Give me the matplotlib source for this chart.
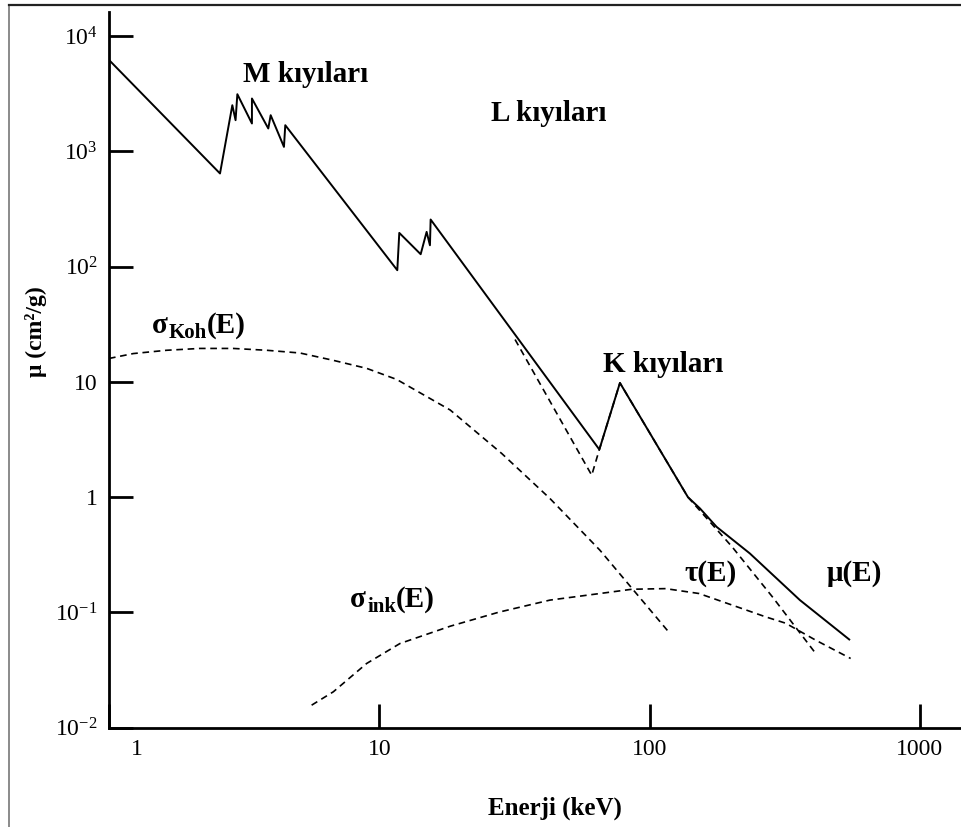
import numpy as np
import matplotlib
matplotlib.use('Agg')
import matplotlib.pyplot as plt
from matplotlib.lines import Line2D
from matplotlib.transforms import ScaledTranslation

plt.rcParams['font.family'] = ['Liberation Serif', 'DejaVu Serif']
plt.rcParams['mathtext.fontset'] = 'custom'
plt.rcParams['mathtext.rm'] = 'Liberation Serif'
plt.rcParams['mathtext.it'] = 'Liberation Serif:italic'
plt.rcParams['mathtext.bf'] = 'Liberation Serif:bold'

# total attenuation mu(E), edges included
mu_E = [1.0, 2.575, 2.86, 2.94, 2.985, 3.38, 3.38, 3.885, 3.965, 4.44, 4.49,
        11.66, 11.86, 14.23, 14.97, 15.4, 15.49, 65.2, 77.7, 138.7, 153.7,
        177, 235, 360, 548]
mu_val = [6200, 642, 2510, 1860, 3127, 1742, 2870, 1577, 2056, 1092, 1684,
          93, 196, 128, 200, 153, 256, 2.59, 9.8, 1.0, 0.798,
          0.553, 0.325, 0.128, 0.0583]

# photoelectric tau(E)
tau_E = [31.8, 61.1, 65.2, 77.7, 138.7, 202, 284.5, 411.8]
tau_val = [23.3, 1.55, 2.59, 9.8, 1.0, 0.371, 0.137, 0.0441]

# coherent scattering
koh_E = [1.0, 1.23, 1.635, 2.17, 2.88, 3.83, 5.09, 6.74, 8.98, 11.6,
         18.3, 28.4, 42.8, 65.5, 119]
koh_val = [15.96, 17.6, 18.8, 19.5, 19.5, 18.8, 17.8, 15.4, 13.1, 10.5,
           5.7, 2.39, 0.974, 0.347, 0.0657]

# incoherent scattering
ink_E = [5.62, 6.76, 8.98, 11.93, 18.3, 27.7, 42.8, 65.5, 86.1, 114.7,
         152.4, 201.8, 268.9, 318.8, 411.8, 554.6]
ink_val = [0.0157, 0.0205, 0.0361, 0.0538, 0.076, 0.1006, 0.128, 0.146,
           0.159, 0.161, 0.146, 0.116, 0.0916, 0.0807, 0.0575, 0.0399]

fig = plt.figure(figsize=(9.61, 8.27), dpi=100)
ax = fig.add_axes([0.1134, 0.120, 0.8866, 0.8655])

dash = (0, (4, 2.8))
ax.plot(mu_E, mu_val, color='black', lw=1.4)
ax.plot(tau_E, tau_val, color='black', lw=1.2, linestyle=dash)
ax.plot(koh_E, koh_val, color='black', lw=1.2, linestyle=dash)
ax.plot(ink_E, ink_val, color='black', lw=1.2, linestyle=dash)

ax.set_xscale('log')
ax.set_yscale('log')
ax.set_xlim(1, 1420)
ax.set_ylim(0.01, 16150)

ax.spines['top'].set_visible(False)
ax.spines['right'].set_visible(False)
ax.spines['left'].set_linewidth(2)
ax.spines['bottom'].set_linewidth(2)

ax.set_xticks([1, 10, 100, 1000])
ax.set_xticklabels(['1', '10', '100', '1000'])
ax.set_yticks([1e-2, 1e-1, 1, 10, 1e2, 1e3, 1e4])
ax.set_yticklabels([r'$10^{\mathrm{-2}}$', r'$10^{\mathrm{-1}}$', '1', '10',
                    r'$10^{2}$', r'$10^{3}$', r'$10^{4}$'])
ax.minorticks_off()
ax.tick_params(direction='in', length=17, width=2, labelsize=17)
ax.tick_params(axis='x', pad=8)
ax.tick_params(axis='y', pad=8)

# the "1" label sits right of the spine in the original
lab1 = ax.get_xticklabels()[0]
lab1.set_transform(lab1.get_transform() + ScaledTranslation(0.28, 0, fig.dpi_scale_trans))

bold = dict(fontsize=21, fontweight='bold', color='black')
ax.text(5.36, 3975, 'M kıyıları', ha='center', va='baseline', **bold)
ax.text(42.4, 1824, 'L kıyıları', ha='center', va='baseline', **bold)
ax.text(112, 12.2, 'K kıyıları', ha='center', va='baseline', **bold)
ax.text(135.2, 0.19, 'τ(E)', ha='left', va='baseline', **bold)
ax.text(452, 0.19, 'μ(E)', ha='left', va='baseline', **bold)


def sigma_label(x, y, sub):
    s = ax.text(x, y, 'σ', ha='left', va='baseline', **bold)
    b = ax.annotate(sub, xy=(1, 0), xycoords=s, ha='left', va='bottom',
                    fontsize=15, fontweight='bold', xytext=(1, -3),
                    textcoords='offset points')
    ax.annotate('(E)', xy=(1, 0), xycoords=(b, s), ha='left', va='bottom',
                xytext=(0, 0), textcoords='offset points', **bold)


sigma_label(1.439, 26.4, 'Koh')
sigma_label(7.79, 0.111, 'ink')

fig.text(555 / 961, 1 - 815 / 827, 'Enerji (keV)', ha='center', va='baseline',
         fontsize=18, fontweight='bold')
fig.text(36 / 961, 1 - 332 / 827, 'μ (cm²/g)', ha='center', va='center',
         rotation=90, fontsize=17, fontweight='bold')

# outer frame (left and top only)
fig.add_artist(Line2D([9 / 961, 9 / 961], [0, 1 - 5 / 827], color='#777777', lw=1.2,
                      transform=fig.transFigure))
fig.add_artist(Line2D([9 / 961, 1], [1 - 5 / 827, 1 - 5 / 827], color='#222222', lw=1.6,
                      transform=fig.transFigure))

fig.savefig('out.png', dpi=100)
